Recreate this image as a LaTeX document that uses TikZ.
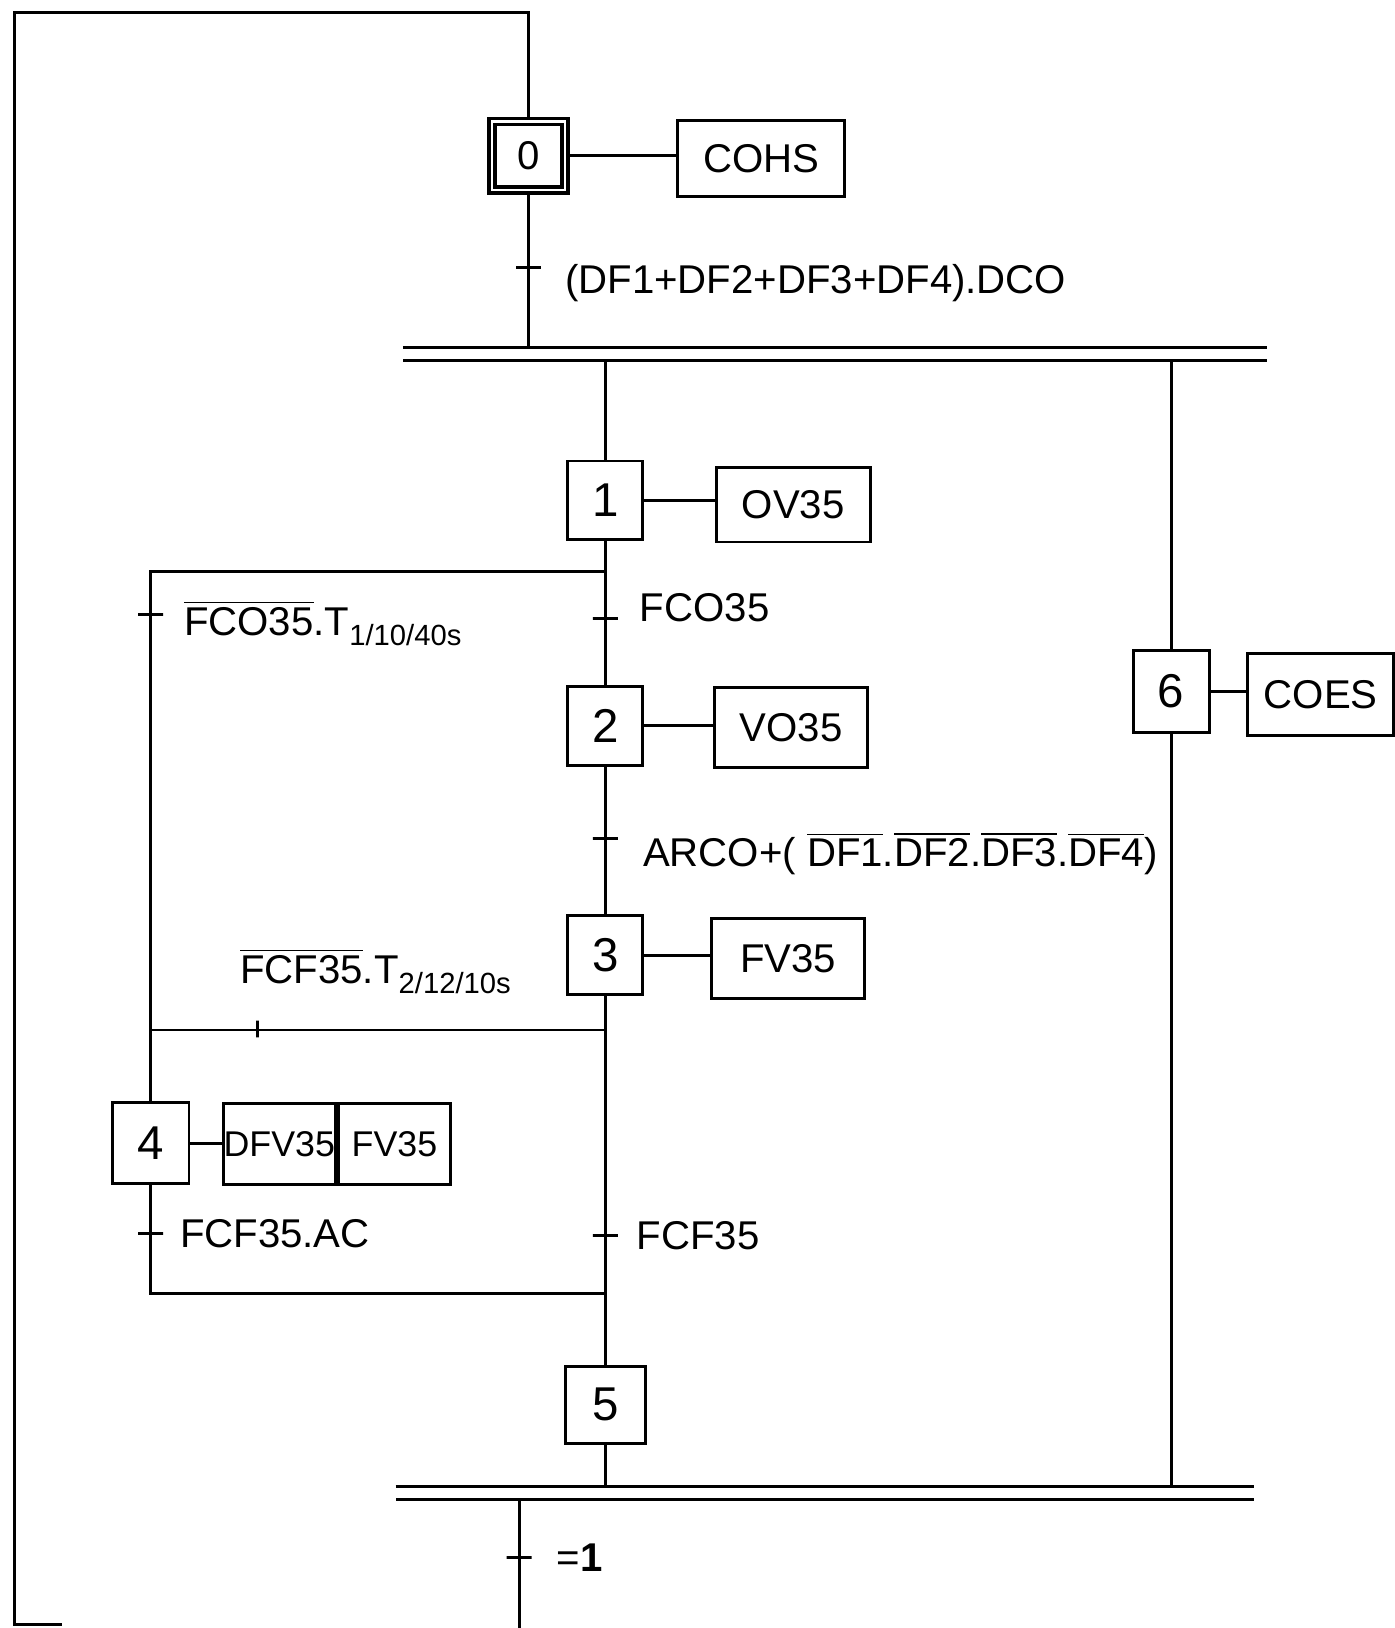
\documentclass[tikz,border=0pt]{standalone}
\usepackage{fontspec}
\setmainfont{Liberation Sans}
\usetikzlibrary{positioning,calc}
\newcommand\tsub[1]{\raisebox{-0.45ex}{\footnotesize #1}}
\newcommand\nbar[1]{$\overline{\mbox{#1}}$}

\begin{document}
\begin{tikzpicture}[x=0.01cm,y=-0.01cm,line width=0.8pt,
  every node/.style={font=\fontsize{11}{13}\selectfont},
  stp/.style={draw,minimum width=0.72cm,minimum height=0.76cm,inner sep=0pt,font=\fontsize{13}{15}\selectfont},
  act/.style={draw,minimum width=1.47cm,minimum height=0.77cm,inner sep=0pt},
  tk/.style={draw,minimum width=0.24cm,minimum height=0pt,inner sep=0pt},
  tkv/.style={draw,minimum height=0.16cm,minimum width=0pt,inner sep=0pt},
  lbl/.style={anchor=west,inner sep=0pt},
  bar/.style={double,double distance=2.6pt}]
  \useasboundingbox (0,0) rectangle (1343,1568);
  \node[stp,double,double distance=0.6pt,line width=1pt,minimum width=0.70cm,minimum height=0.66cm,font=\fontsize{11}{13}\selectfont] (s0) at (509,150) {0};
  \node[act,minimum width=1.60cm,minimum height=0.73cm] (a0) at (733,153) {COHS};
  \node[stp] (s1) at (583,482) {1};
  \node[act,minimum width=1.48cm,minimum height=0.72cm] (a1) at (764,486) {OV35};
  \node[stp] (s2) at (583,699) {2};
  \node[act] (a2) at (762,701) {VO35};
  \node[stp] (s3) at (583,920) {3};
  \node[act] (a3) at (759,923) {FV35};
  \node[stp,minimum width=0.74cm,minimum height=0.78cm] (s4) at (145,1101) {4};
  \node[act,minimum width=1.08cm,minimum height=0.78cm,font=\fontsize{9.8}{12}\selectfont] (a4) at (269,1102) {DFV35};
  \node[act,minimum width=1.08cm,minimum height=0.78cm,font=\fontsize{9.8}{12}\selectfont,right=0pt of a4] (a4b) {FV35};
  \node[stp,minimum width=0.77cm,minimum height=0.74cm] (s5) at (583,1353) {5};
  \node[stp,minimum width=0.73cm,minimum height=0.79cm] (s6) at (1128,666) {6};
  \node[act,minimum width=1.40cm,minimum height=0.79cm] (a6) at (1272,669) {COES};

  \coordinate (tl) at (14,12);
  \coordinate (bl) at (14,1565);
  \coordinate (be) at (60,1565);
  \coordinate (b1l) at (388,341);
  \coordinate (b1r) at (1220,341);
  \coordinate (b2l) at (381,1438);
  \coordinate (b2r) at (1208,1438);
  \coordinate (r1) at (145,550);
  \coordinate (r3) at (145,992);
  \coordinate (r4) at (145,1246);
  \coordinate (e) at (500,1568);

  \draw (s0.north) |- (tl) -- (bl) -- (be);
  \draw (s0.east) -- (s0.east -| a0.west);
  \draw (s1.east) -- (s1.east -| a1.west);
  \draw (s2.east) -- (s2.east -| a2.west);
  \draw (s3.east) -- (s3.east -| a3.west);
  \draw (s4.east) -- (s4.east -| a4.west);
  \draw (s6.east) -- (s6.east -| a6.west);
  \draw (s0.south) -- (s0.south |- b1l);
  \draw (s1.north |- b1l) -- (s1.north);
  \draw (s6.north |- b1l) -- (s6.north);
  \draw (s1.south) -- (s2.north);
  \draw (s2.south) -- (s3.north);
  \draw (s3.south) -- (s5.north);
  \draw (s1.south |- r1) -- (r1) -- (s4.north);
  \draw (s3.south |- r3) -- (r3);
  \draw (s4.south) -- (r4) -- (r4 -| s5.north);
  \draw (s5.south) -- (s5.south |- b2l);
  \draw (s6.south) -- (s6.south |- b2l);
  \draw (e |- b2l) -- (e);
  \draw[bar] (b1l) -- (b1r);
  \draw[bar] (b2l) -- (b2r);

  \node[tk] (t0) at (509,258) {};
  \node[tk] (t1) at (583,596) {};
  \node[tk] (t1b) at (145,592) {};
  \node[tk] (t2) at (583,808) {};
  \node[tkv] (t3) at (248,991) {};
  \node[tk] (t4) at (145,1188) {};
  \node[tk] (t5) at (583,1190) {};
  \node[tk] (t6) at (500,1500) {};

  \node[lbl] (c0) at (543,273) {(DF1+DF2+DF3+DF4).DCO};
  \node[lbl] (c1) at (615,585) {FCO35};
  \node[lbl] (c1b) at (176,600) {\nbar{FCO35}.T\tsub{1/10/40s}};
  \node[lbl] (c2) at (618,822) {ARCO+( \nbar{DF1}.\nbar{DF2}.\nbar{DF3}.\nbar{DF4})};
  \node[lbl] (c3) at (230,935) {\nbar{FCF35}.T\tsub{2/12/10s}};
  \node[lbl] (c4) at (172,1188) {FCF35.AC};
  \node[lbl] (c5) at (612,1190) {FCF35};
  \node[lbl] (c6) at (535,1500) {=\textbf{1}};
\end{tikzpicture}
\end{document}
